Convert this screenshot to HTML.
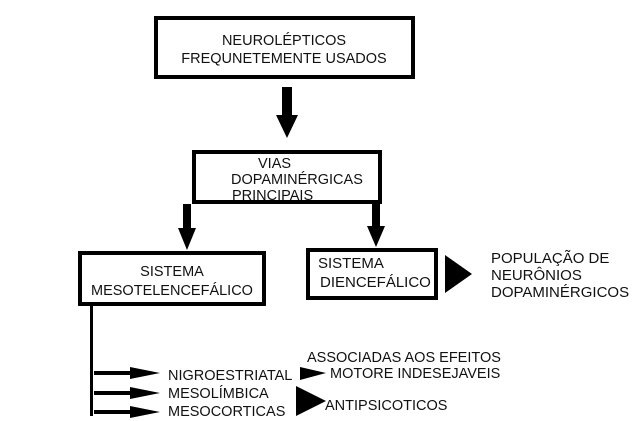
<!DOCTYPE html>
<html><head><style>
html,body{margin:0;padding:0;background:#fff;}
svg{display:block;}
text{font-family:"Liberation Sans",Arial,sans-serif;font-size:14.5px;fill:#111;}
.b{font-size:15px;}
</style></head><body>
<svg width="640" height="421" viewBox="0 0 640 421" xmlns="http://www.w3.org/2000/svg">
<rect x="0" y="0" width="640" height="421" fill="#fff"/>
<rect x="156" y="18" width="257" height="59" fill="#fff" stroke="#000" stroke-width="4"/>
<text x="284" y="45" text-anchor="middle">NEUROLÉPTICOS</text>
<text x="284" y="63" text-anchor="middle">FREQUNETEMENTE USADOS</text>
<rect x="282" y="87" width="10" height="30" fill="#000"/>
<polygon points="276,115 298,115 287,138" fill="#000"/>
<rect x="194" y="152" width="186" height="50" fill="#fff" stroke="#000" stroke-width="4"/>
<text x="258" y="168">VIAS</text>
<text x="231" y="184">DOPAMINÉRGICAS</text>
<text x="232" y="200">PRINCIPAIS</text>
<rect x="183" y="204" width="8" height="26" fill="#000"/>
<polygon points="178,228 196,228 187,250" fill="#000"/>
<rect x="372" y="204" width="8" height="24" fill="#000"/>
<polygon points="367,226 385,226 376,247" fill="#000"/>
<rect x="80" y="253" width="184" height="51" fill="#fff" stroke="#000" stroke-width="4"/>
<text x="172" y="276" text-anchor="middle">SISTEMA</text>
<text x="172" y="295" text-anchor="middle">MESOTELENCEFÁLICO</text>
<rect x="308" y="250" width="128" height="48" fill="#fff" stroke="#000" stroke-width="4"/>
<text class="b" x="318" y="268">SISTEMA</text>
<text class="b" x="320" y="287">DIENCEFÁLICO</text>
<polygon points="445,255 472,274 445,293" fill="#000"/>
<text class="b" x="491" y="263">POPULAÇÃO DE</text>
<text class="b" x="491" y="280">NEURÔNIOS</text>
<text class="b" x="491" y="297">DOPAMINÉRGICOS</text>
<rect x="90" y="305" width="3" height="111" fill="#000"/>
<rect x="94" y="371" width="40" height="4" fill="#000"/>
<polygon points="130,367 160,373 130,379" fill="#000"/>
<rect x="94" y="391" width="40" height="4" fill="#000"/>
<polygon points="130,387 160,393 130,399" fill="#000"/>
<rect x="94" y="410" width="40" height="4" fill="#000"/>
<polygon points="130,406 160,412 130,418" fill="#000"/>
<text x="168" y="380">NIGROESTRIATAL</text>
<text x="168" y="398">MESOLÍMBICA</text>
<text x="168" y="416">MESOCORTICAS</text>
<polygon points="300,367 326,373 300,380" fill="#000"/>
<polygon points="296,386 326,401 296,416" fill="#000"/>
<text x="307" y="362">ASSOCIADAS AOS EFEITOS</text>
<text x="330" y="378">MOTORE INDESEJAVEIS</text>
<text x="325" y="410">ANTIPSICOTICOS</text>
</svg>
</body></html>
